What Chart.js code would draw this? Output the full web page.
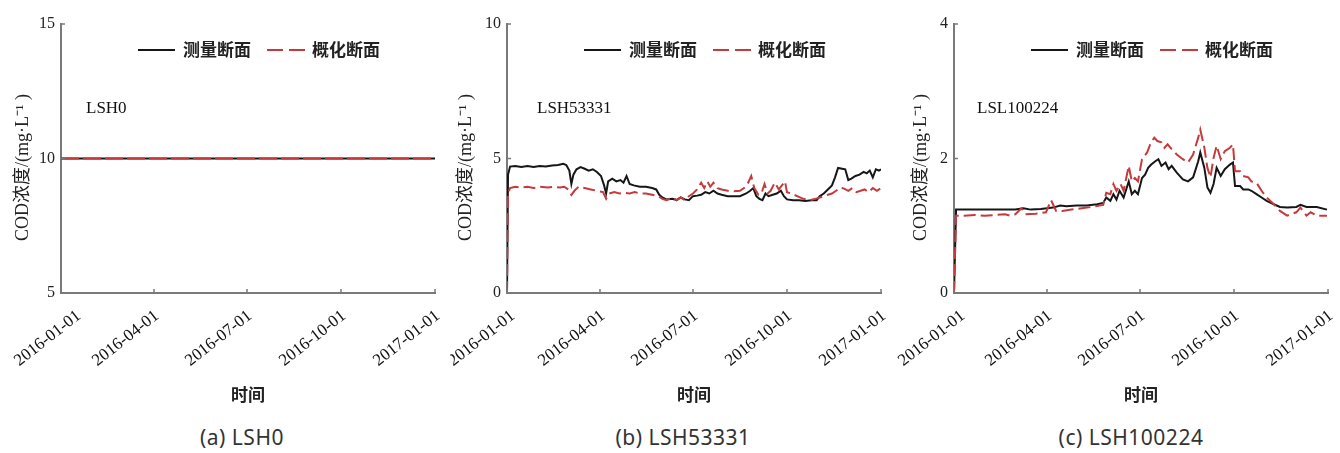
<!DOCTYPE html>
<html>
<head>
<meta charset="utf-8">
<script src="https://cdn.jsdelivr.net/npm/chart.js@4.4.1/dist/chart.umd.min.js"></script>
<style>
body { margin: 0; background: #fff; }
#wrap { position: relative; width: 1340px; height: 453px; overflow: hidden; background: #fff; }
#wrap canvas { position: absolute; top: 0; }
.cap { position: absolute; top: 423px; font: 21px "Noto Sans", sans-serif; color: #333; transform: translateX(-50%); white-space: nowrap; letter-spacing: 0.5px; }
</style>
</head>
<body>
<div id="wrap">
  <canvas id="pa" width="450" height="410" style="left:0px"></canvas>
  <canvas id="pb" width="445" height="410" style="left:450px"></canvas>
  <canvas id="pc" width="445" height="410" style="left:895px"></canvas>
  <div class="cap" style="left:242px">(a) LSH0</div>
  <div class="cap" style="left:683px">(b) LSH53331</div>
  <div class="cap" style="left:1131px">(c) LSH100224</div>
</div>
<script>
// day index since 2016-01-01 (2016 has 366 days)
const tickDays = [0, 91, 182, 274, 366];
const tickLabels = ['2016-01-01', '2016-04-01', '2016-07-01', '2016-10-01', '2017-01-01'];
const seriesNames = ['测量断面', '概化断面'];

// (a) LSH0
const aDays = [0, 366];
const aMeasured = [10, 10];
const aGeneral = [10, 10];

// (b) LSH53331
const bDaysM = [0, 1, 3, 8, 14, 20, 26, 32, 38, 44, 50, 55, 58, 61, 63, 65, 68, 72, 76, 80, 84, 88, 92, 95, 97, 99,
  103, 107, 111, 114, 117, 120, 124, 130, 136, 142, 146, 149, 152, 156, 162, 166, 170, 174, 178, 182, 186, 190, 194,
  198, 202, 206, 210, 216, 222, 228, 234, 238, 241, 244, 247, 250, 253, 256, 260, 264, 268, 271, 274, 280, 286, 292,
  298, 303, 306, 310, 314, 318, 321, 324, 328, 331, 334, 337, 341, 345, 349, 352, 355, 358, 361, 364, 366];
const bMeasured = [0, 4.4, 4.7, 4.72, 4.68, 4.72, 4.68, 4.72, 4.70, 4.74, 4.76, 4.80, 4.76, 4.55, 4.05, 4.4, 4.6, 4.68,
  4.62, 4.55, 4.6, 4.5, 4.35, 4.0, 3.7, 4.15, 4.25, 4.15, 4.2, 4.1, 4.35, 4.05, 4.0, 3.95, 3.95, 3.9, 3.85, 3.65, 3.55,
  3.48, 3.5, 3.45, 3.55, 3.48, 3.45, 3.6, 3.62, 3.65, 3.75, 3.7, 3.8, 3.7, 3.65, 3.6, 3.6, 3.6, 3.7, 3.8, 3.9, 3.6,
  3.5, 3.45, 3.7, 3.6, 3.65, 3.7, 3.8, 3.6, 3.48, 3.45, 3.45, 3.42, 3.45, 3.45, 3.6, 3.7, 3.85, 4.0, 4.3, 4.65, 4.62,
  4.6, 4.2, 4.25, 4.35, 4.4, 4.5, 4.45, 4.55, 4.3, 4.6, 4.55, 4.6];
const bDaysG = [0, 1, 3, 8, 14, 20, 26, 32, 40, 46, 52, 56, 60, 63, 66, 70, 76, 82, 88, 94, 97, 100, 105, 110, 115,
  120, 125, 130, 136, 142, 148, 152, 156, 162, 166, 170, 174, 178, 182, 186, 190, 193, 196, 199, 202, 206, 210, 216,
  222, 228, 232, 236, 239, 242, 246, 249, 252, 255, 258, 262, 266, 270, 272, 274, 278, 284, 290, 296, 302, 306, 310,
  314, 318, 322, 326, 330, 334, 338, 342, 346, 350, 354, 358, 362, 366];
const bGeneral = [0, 3.7, 3.9, 3.95, 3.92, 3.95, 3.9, 3.95, 3.92, 3.95, 3.92, 3.95, 3.85, 3.65, 3.8, 3.95, 3.9, 3.85,
  3.8, 3.75, 3.5, 3.7, 3.75, 3.7, 3.72, 3.7, 3.75, 3.7, 3.7, 3.65, 3.6, 3.5, 3.45, 3.55, 3.45, 3.55, 3.45, 3.6, 3.7,
  3.85, 4.1, 3.9, 4.15, 3.95, 4.1, 3.9, 3.85, 3.8, 3.78, 3.8, 3.9, 4.1, 4.35, 3.9, 3.65, 3.7, 4.05, 3.7, 3.8, 4.1,
  3.85, 4.05, 4.15, 3.75, 3.7, 3.6, 3.5, 3.45, 3.5, 3.55, 3.6, 3.65, 3.7, 3.8, 3.92, 3.88, 3.8, 3.9, 3.75, 3.8, 3.85,
  3.75, 3.9, 3.8, 3.9];

// (c) LSL100224
const cDaysM = [0, 2, 10, 20, 30, 40, 50, 60, 68, 75, 85, 91, 97, 104, 110, 120, 130, 140, 146, 149, 153, 156, 159,
  162, 166, 171, 174, 177, 180, 184, 187, 190, 193, 197, 200, 203, 207, 210, 213, 218, 224, 229, 234, 239, 241, 245,
  248, 251, 254, 257, 261, 265, 270, 273, 275, 280, 283, 288, 291, 296, 301, 306, 313, 319, 326, 335, 339, 345, 355, 365];
const cMeasured = [0, 1.24, 1.24, 1.24, 1.24, 1.24, 1.24, 1.24, 1.26, 1.24, 1.25, 1.26, 1.27, 1.30, 1.29, 1.30, 1.30,
  1.32, 1.34, 1.42, 1.37, 1.47, 1.39, 1.52, 1.42, 1.66, 1.47, 1.52, 1.47, 1.71, 1.76, 1.86, 1.91, 1.96, 1.99, 1.89,
  1.94, 1.84, 1.89, 1.79, 1.69, 1.66, 1.72, 1.96, 2.09, 1.86, 1.57, 1.49, 1.62, 1.86, 1.74, 1.84, 1.91, 1.94, 1.59,
  1.59, 1.54, 1.54, 1.52, 1.47, 1.42, 1.37, 1.32, 1.28, 1.27, 1.28, 1.31, 1.28, 1.28, 1.24];
const cDaysG = [0, 2, 10, 20, 30, 40, 50, 55, 60, 66, 70, 80, 90, 95, 100, 106, 115, 125, 135, 146, 149, 153, 156,
  159, 163, 166, 171, 174, 177, 180, 184, 189, 192, 196, 199, 203, 206, 209, 213, 218, 224, 229, 234, 239, 241, 245,
  248, 251, 254, 257, 261, 265, 270, 273, 275, 280, 283, 288, 291, 296, 301, 306, 313, 319, 326, 335, 339, 345, 349,
  355, 365];
const cGeneral = [0, 1.15, 1.15, 1.16, 1.15, 1.16, 1.17, 1.15, 1.17, 1.26, 1.17, 1.18, 1.20, 1.38, 1.22, 1.22, 1.24,
  1.26, 1.28, 1.31, 1.49, 1.47, 1.62, 1.52, 1.62, 1.52, 1.89, 1.66, 1.71, 1.66, 1.99, 2.09, 2.21, 2.31, 2.26, 2.24,
  2.16, 2.21, 2.14, 2.06, 1.99, 1.94, 2.06, 2.31, 2.43, 2.16, 1.86, 1.72, 2.01, 2.19, 1.99, 2.11, 2.16, 2.21, 1.81,
  1.81, 1.74, 1.72, 1.66, 1.64, 1.52, 1.42, 1.32, 1.22, 1.15, 1.20, 1.27, 1.15, 1.20, 1.15, 1.15];

const BLACK = '#161616';
const RED = '#c63a3c';
const AXIS = '#7a7a7a';

const pts = (days, vals) => days.map((d, i) => ({ x: d, y: vals[i] }));

// little tick marks drawn inward from the axes, and a nudge for the first date label
const inwardTicks = {
  id: 'inwardTicks',
  beforeDraw(chart, args, opts) {
    const items = chart.scales.x.getLabelItems ? chart.scales.x.getLabelItems() : null;
    if (items && items[0] && !items[0]._moved) {
      items[0].options.translation[0] += opts.firstShift;
      items[0]._moved = true;
    }
  },
  afterDraw(chart) {
    const { ctx, chartArea: a, scales: { x, y } } = chart;
    ctx.save();
    ctx.strokeStyle = AXIS;
    ctx.lineWidth = 1.5;
    x.ticks.forEach(t => {
      const px = x.getPixelForValue(t.value);
      ctx.beginPath(); ctx.moveTo(px, a.bottom + 1); ctx.lineTo(px, a.bottom - 4); ctx.stroke();
    });
    y.ticks.forEach(t => {
      const py = y.getPixelForValue(t.value);
      ctx.beginPath(); ctx.moveTo(a.left - 1, py); ctx.lineTo(a.left + 4, py); ctx.stroke();
    });
    ctx.restore();
  }
};

// legend + station name inside the plot
const panelText = {
  id: 'panelText',
  afterDraw(chart, args, opts) {
    const { ctx, chartArea: a } = chart;
    const ds = chart.data.datasets;
    ctx.save();
    ctx.font = 'bold 17px "Noto Sans CJK SC", sans-serif';
    ctx.textBaseline = 'middle';
    ctx.fillStyle = '#222';
    const ly = 50;
    // measured
    ctx.setLineDash([]);
    ctx.lineWidth = 2.2;
    ctx.strokeStyle = ds[0].borderColor;
    ctx.beginPath(); ctx.moveTo(a.left + 77, ly); ctx.lineTo(a.left + 114, ly); ctx.stroke();
    ctx.fillText(ds[0].label, a.left + 122, ly);
    // generalized
    ctx.setLineDash([16, 6]);
    ctx.strokeStyle = ds[1].borderColor;
    ctx.beginPath(); ctx.moveTo(a.left + 206, ly); ctx.lineTo(a.left + 244, ly); ctx.stroke();
    ctx.setLineDash([]);
    ctx.fillText(ds[1].label, a.left + 251, ly);
    // station
    ctx.font = '17px "Liberation Serif", serif';
    ctx.fillStyle = '#111';
    ctx.fillText(opts.name, a.left + opts.nameX, 109);
    ctx.restore();
  }
};

function makePanel(id, o) {
  return new Chart(document.getElementById(id), {
    type: 'line',
    data: {
      datasets: [
        { label: seriesNames[0], data: o.measured, borderColor: BLACK, borderWidth: 2, pointRadius: 0, tension: 0, order: 2 },
        { label: seriesNames[1], data: o.general, borderColor: RED, borderWidth: 2, borderDash: o.dash, pointRadius: 0, tension: 0, order: 1 }
      ]
    },
    options: {
      responsive: false,
      animation: false,
      layout: { autoPadding: false, padding: { left: 0, top: 24, right: o.padRight, bottom: 0 } },
      plugins: {
        legend: { display: false },
        tooltip: { enabled: false },
        panelText: { name: o.name, nameX: o.nameX },
        inwardTicks: { firstShift: o.firstShift }
      },
      scales: {
        x: {
          type: 'linear',
          min: 0,
          max: 366,
          afterBuildTicks: s => { s.ticks = tickDays.map(v => ({ value: v })); },
          afterFit: s => { s.height = 117; s.paddingLeft = 0; s.paddingRight = 0; },
          grid: { display: true, drawOnChartArea: false, drawTicks: false },
          border: { color: AXIS, width: 2 },
          ticks: {
            minRotation: 38, maxRotation: 38, padding: 13, labelOffset: 3,
            autoSkip: false,
            color: '#111',
            font: { family: '"Liberation Serif", serif', size: 17 },
            callback: v => tickLabels[tickDays.indexOf(v)]
          },
          title: {
            display: true, text: '时间', color: '#222',
            font: { family: '"Noto Sans CJK SC", sans-serif', size: 17, weight: 'bold' },
            padding: { top: 0, bottom: 5 }
          }
        },
        y: {
          min: o.yMin,
          max: o.yMax,
          afterFit: s => { s.width = o.yWidth; s.paddingTop = 0; s.paddingBottom = 0; },
          grid: { display: true, drawOnChartArea: false, drawTicks: false },
          border: { color: AXIS, width: 2 },
          ticks: {
            stepSize: o.yStep, padding: 6, color: '#222',
            font: { family: '"Liberation Serif", serif', size: 16 }
          },
          title: {
            display: true, text: 'COD浓度/(mg·L⁻¹ )    ', color: '#222',
            font: { family: '"Liberation Serif", "Noto Sans CJK SC", serif', size: 18 },
            padding: { top: o.titlePad, bottom: 0 }
          }
        }
      }
    },
    plugins: [inwardTicks, panelText]
  });
}

makePanel('pa', {
  measured: pts(aDays, aMeasured), general: pts(aDays, aGeneral), dash: [18, 4],
  yMin: 5, yMax: 15, yStep: 5, yWidth: 61, padRight: 15, titlePad: 12, name: 'LSH0', nameX: 25, firstShift: 15
});
makePanel('pb', {
  measured: pts(bDaysM, bMeasured), general: pts(bDaysG, bGeneral), dash: [12, 5],
  yMin: 0, yMax: 10, yStep: 5, yWidth: 57, padRight: 14, titlePad: 5, name: 'LSH53331', nameX: 30, firstShift: 3
});
makePanel('pc', {
  measured: pts(cDaysM, cMeasured), general: pts(cDaysG, cGeneral), dash: [12, 5],
  yMin: 0, yMax: 4, yStep: 2, yWidth: 59, padRight: 12, titlePad: 15, name: 'LSL100224', nameX: 23, firstShift: 6
});
</script>
</body>
</html>
